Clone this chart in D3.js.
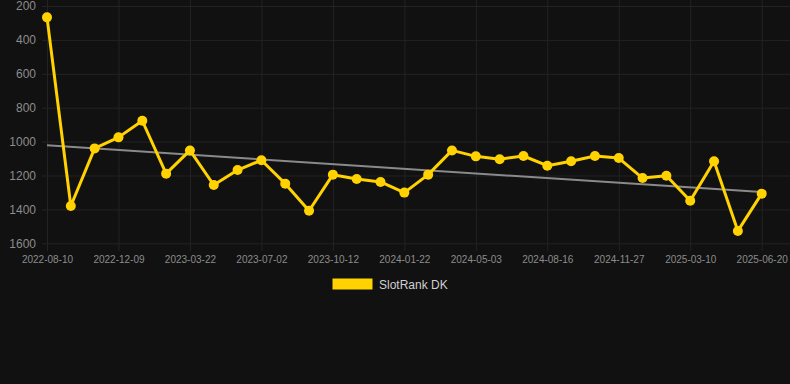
<!DOCTYPE html>
<html>
<head>
<meta charset="utf-8">
<script src="https://cdn.jsdelivr.net/npm/d3@7"></script>
<style>
  html, body { margin: 0; padding: 0; background: #111111; }
  svg { display: block; font-family: "Liberation Sans", Arial, sans-serif; }
</style>
</head>
<body>
<svg id="chart" width="790" height="384"></svg>
<script>
// ---- data ----
const dates = [
  "2022-08-10","2022-09-20","2022-10-30","2022-12-09","2023-01-12","2023-02-15",
  "2023-03-22","2023-04-25","2023-05-29","2023-07-02","2023-08-05","2023-09-08",
  "2023-10-12","2023-11-15","2023-12-19","2024-01-22","2024-02-25","2024-03-30",
  "2024-05-03","2024-06-07","2024-07-12","2024-08-16","2024-09-19","2024-10-23",
  "2024-11-27","2024-12-31","2025-02-03","2025-03-10","2025-04-13","2025-05-17",
  "2025-06-20"
];
const rankValues = [
  267, 1380, 1040, 975, 877, 1189, 1052, 1256, 1168, 1110,
  1248, 1408, 1195, 1221, 1238, 1301, 1195, 1052, 1087, 1104,
  1085, 1142, 1116, 1085, 1097, 1215, 1201, 1349, 1116, 1527,
  1307
];
const trendValues = [1022, 1298]; // trend line at first and last date
const yTicks = [200, 400, 600, 800, 1000, 1200, 1400, 1600];
const xTickLabels = dates.filter((d, i) => i % 3 === 0);
const seriesName = "SlotRank DK";

// ---- layout ----
const svg = d3.select("#chart");
const W = 790, H = 384;
const plotTop = 6, plotBottom = 243.3, gridLeft = 42, gridRight = 790;

svg.append("rect").attr("width", W).attr("height", H).attr("fill", "#111111");

const x = d3.scalePoint().domain(dates).range([47, 761.7]);
const y = d3.scaleLinear().domain([200, 1600]).range([plotTop, plotBottom]);

// horizontal grid + y labels
const yAxis = d3.axisLeft(y).tickValues(yTicks).tickSize(-(gridRight - gridLeft)).tickPadding(6).tickFormat(d3.format("d"));
const gy = svg.append("g").attr("transform", `translate(${gridLeft},0)`).call(yAxis);
gy.select(".domain").remove();
gy.selectAll("line").attr("stroke", "#232323").attr("stroke-width", 1);
gy.selectAll("text").attr("fill", "#8c8c8c").attr("font-size", 12);

// vertical grid + x labels
const axisY = 251;
const xAxis = d3.axisBottom(x).tickValues(xTickLabels).tickSize(-axisY).tickPadding(5);
const gx = svg.append("g").attr("transform", `translate(0,${axisY})`).call(xAxis);
gx.select(".domain").remove();
gx.selectAll("line").attr("stroke", "#232323").attr("stroke-width", 1);
gx.selectAll("text").attr("fill", "#8c8c8c").attr("font-size", 10);

// trend line
svg.append("line")
  .attr("x1", x(dates[0])).attr("y1", y(trendValues[0]))
  .attr("x2", x(dates[dates.length - 1])).attr("y2", y(trendValues[1]))
  .attr("stroke", "#8a8a8a").attr("stroke-width", 2);

// series line
const color = "#ffd200";
const pts = dates.map((d, i) => ({ d, v: rankValues[i] }));
svg.append("path")
  .datum(pts)
  .attr("fill", "none")
  .attr("stroke", color)
  .attr("stroke-width", 3)
  .attr("stroke-linejoin", "round")
  .attr("d", d3.line().x(p => x(p.d)).y(p => y(p.v)));

svg.append("g").selectAll("circle").data(pts).join("circle")
  .attr("cx", p => x(p.d)).attr("cy", p => y(p.v)).attr("r", 5)
  .attr("fill", color);

// legend
const lg = svg.append("g");
lg.append("rect").attr("x", 332.5).attr("y", 278.5).attr("width", 40).attr("height", 11)
  .attr("fill", color);
lg.append("text").attr("x", 379).attr("y", 289).attr("fill", "#d0d0d0")
  .attr("font-size", 12).text(seriesName);
</script>
</body>
</html>
